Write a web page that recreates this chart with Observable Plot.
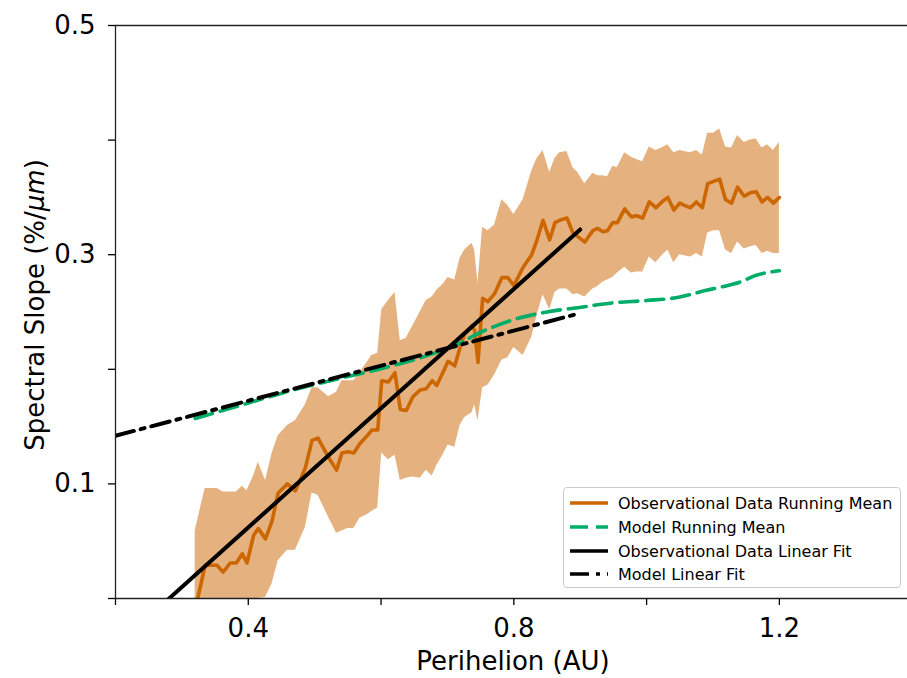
<!DOCTYPE html>
<html><head><meta charset="utf-8">
<script src="https://cdn.jsdelivr.net/npm/d3@7"></script>
<script src="https://cdn.jsdelivr.net/npm/@observablehq/plot@0.6"></script>
<style>
body{margin:0;background:#fff;font-family:"DejaVu Sans",sans-serif;}
#wrap{position:relative;width:907px;height:678px;overflow:hidden;}
#legend{position:absolute;left:563px;top:487px;width:338px;height:101px;box-sizing:border-box;border:1px solid #cccccc;border-radius:4px;background:rgba(255,255,255,0.85);font-family:"DejaVu Sans",sans-serif;font-size:16px;color:#000;}
.row{position:absolute;left:0;height:20px;display:flex;align-items:center;white-space:nowrap;}
.row svg{margin-left:6px;margin-right:10px;}
</style></head>
<body><div id="wrap"></div>
<script>
// ---- data ----
const obsX = [0.320,0.335,0.353,0.362,0.373,0.382,0.391,0.398,0.408,0.415,
0.426,0.436,0.445,0.459,0.471,0.486,0.496,0.505,0.521,0.533,
0.541,0.550,0.559,0.568,0.579,0.586,0.595,0.601,0.611,0.621,
0.629,0.638,0.648,0.659,0.668,0.677,0.684,0.693,0.701,0.711,
0.719,0.726,0.737,0.741,0.746,0.753,0.761,0.771,0.782,0.791,
0.800,0.814,0.827,0.835,0.844,0.854,0.862,0.869,0.880,0.889,
0.896,0.907,0.919,0.926,0.934,0.941,0.949,0.956,0.967,0.977,
0.985,0.994,1.004,1.014,1.023,1.032,1.041,1.050,1.057,1.066,
1.075,1.084,1.092,1.101,1.110,1.119,1.128,1.137,1.147,1.156,
1.165,1.174,1.182,1.191,1.200];
const obsMean = [-0.010,0.029,0.029,0.023,0.031,0.031,0.039,0.031,0.055,0.061,
0.052,0.068,0.092,0.100,0.094,0.114,0.138,0.140,0.123,0.112,
0.127,0.128,0.127,0.135,0.142,0.147,0.147,0.190,0.189,0.197,
0.165,0.164,0.176,0.182,0.183,0.190,0.186,0.197,0.207,0.203,
0.219,0.231,0.238,0.234,0.206,0.262,0.259,0.266,0.280,0.280,
0.273,0.289,0.300,0.313,0.330,0.313,0.328,0.330,0.332,0.319,
0.316,0.311,0.321,0.323,0.320,0.321,0.328,0.328,0.340,0.333,
0.334,0.332,0.346,0.341,0.346,0.350,0.339,0.345,0.343,0.341,
0.346,0.341,0.362,0.364,0.366,0.348,0.345,0.359,0.351,0.354,
0.355,0.346,0.350,0.345,0.350];
const obsUpper = [0.059,0.096,0.096,0.093,0.093,0.093,0.098,0.094,0.107,0.119,
0.103,0.127,0.142,0.151,0.155,0.169,0.184,0.184,0.176,0.180,
0.190,0.190,0.190,0.197,0.206,0.212,0.214,0.252,0.260,0.267,
0.225,0.227,0.238,0.250,0.260,0.263,0.269,0.274,0.280,0.278,
0.297,0.304,0.310,0.304,0.275,0.324,0.321,0.326,0.348,0.343,
0.335,0.348,0.373,0.384,0.391,0.372,0.384,0.389,0.390,0.376,
0.372,0.362,0.371,0.369,0.369,0.368,0.377,0.376,0.389,0.385,
0.383,0.381,0.394,0.391,0.393,0.396,0.389,0.391,0.390,0.389,
0.391,0.387,0.406,0.406,0.410,0.394,0.393,0.404,0.398,0.400,
0.401,0.393,0.396,0.391,0.398];
const obsLower = [-0.080,-0.020,-0.015,-0.012,-0.009,-0.008,-0.006,-0.010,-0.002,0.000,
0.001,0.013,0.033,0.042,0.042,0.062,0.092,0.090,0.071,0.057,
0.059,0.061,0.061,0.070,0.073,0.076,0.079,0.127,0.121,0.125,
0.103,0.105,0.106,0.105,0.112,0.107,0.116,0.125,0.134,0.132,
0.151,0.158,0.162,0.169,0.155,0.184,0.186,0.195,0.208,0.210,
0.219,0.212,0.228,0.247,0.265,0.252,0.267,0.270,0.270,0.265,
0.266,0.263,0.270,0.272,0.276,0.278,0.280,0.284,0.289,0.284,
0.285,0.285,0.298,0.293,0.299,0.304,0.293,0.300,0.299,0.298,
0.301,0.298,0.319,0.321,0.321,0.304,0.301,0.311,0.305,0.307,
0.308,0.301,0.303,0.301,0.301];

const modelX = [0.320,0.373,0.426,0.468,0.523,0.603,0.659,0.719,0.749,0.798,
0.850,0.899,0.949,1.000,1.050,1.090,1.114,1.140,1.165,1.200];
const modelMean = [0.157,0.166,0.175,0.182,0.190,0.201,0.210,0.223,0.232,0.243,
0.250,0.254,0.258,0.260,0.263,0.269,0.272,0.276,0.282,0.286];

const obsFitX = [0.2, 0.9];
const obsFitY = [-0.042, 0.322];
const modelFitX = [0.2, 0.9];
const modelFitY = [0.142, 0.249];

const xTicks = [0.2, 0.4, 0.6, 0.8, 1.0, 1.2];
const xTickLabels = ["", "0.4", "", "0.8", "", "1.2"];
const yTicks = [0, 0.1, 0.2, 0.3, 0.4, 0.5];
const yTickLabels = ["", "0.1", "", "0.3", "", "0.5"];

const seriesNames = ["Observational Data Running Mean", "Model Running Mean", "Observational Data Linear Fit", "Model Linear Fit"];
const xLabel = "Perihelion (AU)";

// ---- styles ----
const ORANGE = "#cc6600", GREEN = "#00ad68", BLACK = "#000000";
const DASH = "18,8", DASHDOT = "19,7,4,7";

const obsTable = obsX.map((x, i) => ({x, mean: obsMean[i], lo: obsLower[i], hi: obsUpper[i]}));
const modelTable = modelX.map((x, i) => ({x, y: modelMean[i]}));
const obsFit = obsFitX.map((x, i) => ({x, y: obsFitY[i]}));
const modelFit = modelFitX.map((x, i) => ({x, y: modelFitY[i]}));

const chart = Plot.plot({
  width: 907, height: 678,
  marginLeft: 115, marginRight: 0, marginTop: 25, marginBottom: 80,
  x: {domain: [0.2, 1.393]},
  y: {domain: [0, 0.5]},
  style: {fontFamily: "DejaVu Sans", fontSize: "26px", background: "white", color: "black", overflow: "visible"},
  marks: [
    Plot.areaY(obsTable, {x: "x", y1: "lo", y2: "hi", fill: ORANGE, fillOpacity: 0.5, clip: true}),
    Plot.lineY(obsTable, {x: "x", y: "mean", stroke: ORANGE, strokeWidth: 3.6, clip: true}),
    Plot.lineY(modelTable, {x: "x", y: "y", stroke: GREEN, strokeWidth: 3.6, strokeDasharray: DASH, curve: "monotone-x", clip: true}),
    Plot.lineY(obsFit, {x: "x", y: "y", stroke: BLACK, strokeWidth: 4, clip: true}),
    Plot.lineY(modelFit, {x: "x", y: "y", stroke: BLACK, strokeWidth: 4, strokeDasharray: DASHDOT, clip: true}),
    Plot.ruleX([0.2], {stroke: "#222", strokeWidth: 1.3}),
    Plot.ruleY([0, 0.5], {stroke: "#222", strokeWidth: 1.3}),
    Plot.axisX({ticks: xTicks, tickFormat: d => xTickLabels[xTicks.findIndex(t => Math.abs(t - d) < 1e-9)], tickSize: 7, tickPadding: 13, label: null, strokeWidth: 1.3}),
    Plot.axisY({ticks: yTicks, tickFormat: d => yTickLabels[yTicks.findIndex(t => Math.abs(t - d) < 1e-9)], tickSize: 7, tickPadding: 13, label: null, strokeWidth: 1.3})
  ]
});
const wrap = document.getElementById("wrap");
wrap.appendChild(chart);

const svg = d3.select(chart);
svg.append("text").attr("x", 513).attr("y", 670).attr("text-anchor", "middle")
  .attr("font-family", "DejaVu Sans").attr("font-size", 26).attr("fill", "black").text(xLabel);
const yl = svg.append("text").attr("transform", "translate(44,305) rotate(-90)").attr("text-anchor", "middle")
  .attr("font-family", "DejaVu Sans").attr("font-size", 26).attr("fill", "black");
yl.append("tspan").text("Spectral Slope (%/");
yl.append("tspan").attr("font-style", "italic").text("μm");
yl.append("tspan").text(")");

// legend
const legend = document.createElement("div");
legend.id = "legend";
const styles = [
  {stroke: ORANGE, dash: null},
  {stroke: GREEN, dash: DASH},
  {stroke: BLACK, dash: null},
  {stroke: BLACK, dash: DASHDOT}
];
const rowTops = [5, 29, 53, 76];
seriesNames.forEach((name, i) => {
  const row = document.createElement("div");
  row.className = "row";
  row.style.top = rowTops[i] + "px";
  const s = styles[i];
  row.innerHTML = `<svg width="38" height="10"><line x1="0" x2="38" y1="5" y2="5" stroke="${s.stroke}" stroke-width="3.5" ${s.dash ? `stroke-dasharray="${s.dash}"` : ""}/></svg><span>${name}</span>`;
  legend.appendChild(row);
});
wrap.appendChild(legend);
</script>
</body></html>
